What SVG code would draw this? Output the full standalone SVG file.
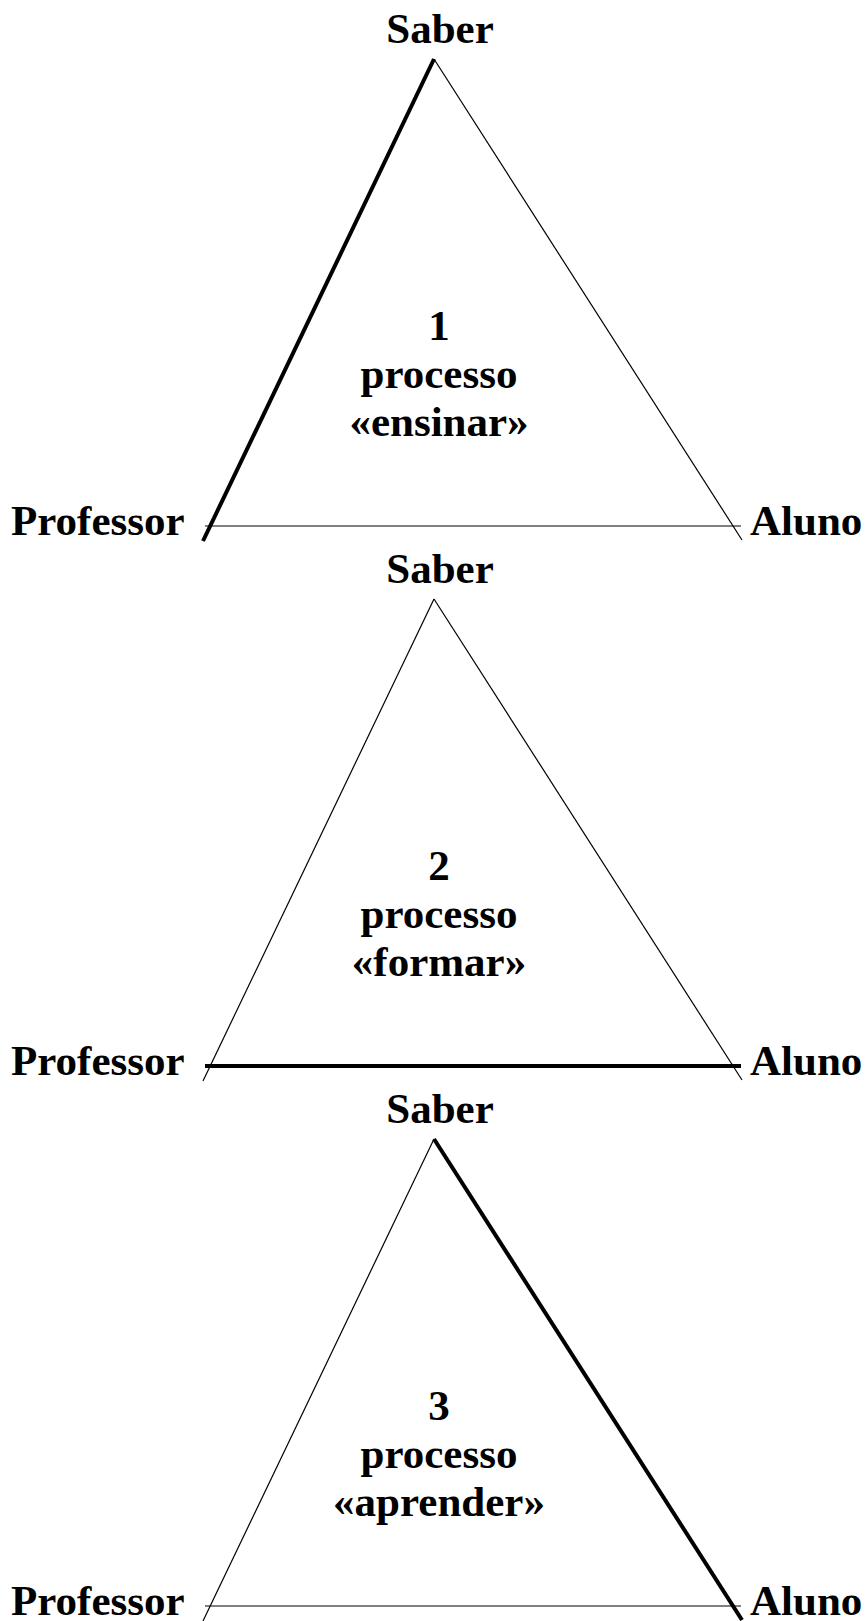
<svg xmlns="http://www.w3.org/2000/svg" width="865" height="1621" viewBox="0 0 865 1621">
<style>
text{font-family:"Liberation Serif","Times New Roman",serif;font-weight:bold;font-size:43px;fill:#000}
.c{text-anchor:middle}
.thin{stroke:#000;stroke-width:1.2;fill:none}
.thick{stroke:#000;stroke-width:4;fill:none}
</style>
<rect width="865" height="1621" fill="#fff"/>
<g id="diagram1">
<g id="connectors1">
<line class="thick" x1="434" y1="59" x2="203" y2="541"/>
<line class="thin" x1="434" y1="59" x2="742" y2="540"/>
<line class="thin" x1="205" y1="526" x2="741" y2="526"/>
</g>
<g id="saber1"><text class="c" x="440" y="43">Saber</text></g>
<g id="prof1"><text x="11" y="535">Professor</text></g>
<g id="aluno1"><text x="750" y="535">Aluno</text></g>
<g id="label1"><text class="c" x="439" y="340">1</text><text class="c" x="439" y="388">processo</text><text class="c" x="439" y="436">«ensinar»</text></g>
</g>
<g id="diagram2" transform="translate(0,540)">
<g id="connectors2">
<line class="thin" x1="434" y1="59" x2="203" y2="541"/>
<line class="thin" x1="434" y1="59" x2="742" y2="540"/>
<line class="thick" x1="205" y1="526" x2="741" y2="526"/>
</g>
<g id="saber2"><text class="c" x="440" y="43">Saber</text></g>
<g id="prof2"><text x="11" y="535">Professor</text></g>
<g id="aluno2"><text x="750" y="535">Aluno</text></g>
<g id="label2"><text class="c" x="439" y="340">2</text><text class="c" x="439" y="388">processo</text><text class="c" x="439" y="436">«formar»</text></g>
</g>
<g id="diagram3" transform="translate(0,1080)">
<g id="connectors3">
<line class="thin" x1="434" y1="59" x2="203" y2="541"/>
<line class="thick" x1="434" y1="59" x2="742" y2="540"/>
<line class="thin" x1="205" y1="526" x2="741" y2="526"/>
</g>
<g id="saber3"><text class="c" x="440" y="43">Saber</text></g>
<g id="prof3"><text x="11" y="535">Professor</text></g>
<g id="aluno3"><text x="750" y="535">Aluno</text></g>
<g id="label3"><text class="c" x="439" y="340">3</text><text class="c" x="439" y="388">processo</text><text class="c" x="439" y="436">«aprender»</text></g>
</g>
</svg>
